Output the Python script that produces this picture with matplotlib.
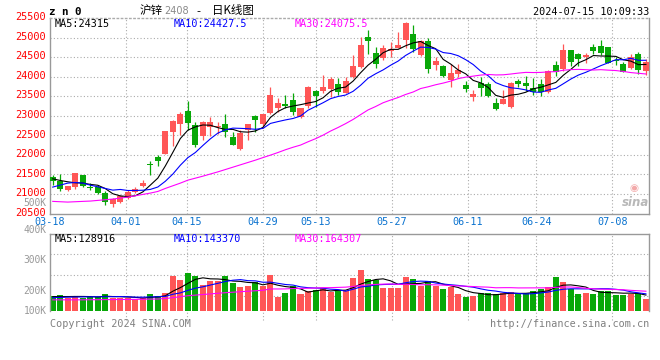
import numpy as np
import pandas as pd
import matplotlib
matplotlib.use("Agg")
import matplotlib.pyplot as plt
from matplotlib.transforms import ScaledTranslation

# daily OHLC of 沪锌2408, 2024-03-18 .. 2024-07-15 (80 sessions)
opens = [21430, 21320, 21090, 21165, 21490, 21190, 21165, 21020, 20740, 20785,
         20895, 21045, 21210, 21765, 21955, 22025, 22595, 22790, 23120, 22765,
         22470, 22700, 22700, 22790, 22465, 22155, 22630, 22995, 22790, 23080,
         23190, 23270, 23400, 22980, 23250, 23630, 23630, 23685, 23810, 23590,
         23980, 24235, 25015, 24610, 24465, 24650, 24745, 24930, 25100, 24550,
         24915, 24295, 24280, 23910, 24065, 23785, 23470, 23850, 23800, 23315,
         23300, 23215, 23895, 23845, 23715, 23810, 23615, 24295, 24185, 24675,
         24590, 24510, 24760, 24790, 24760, 24420, 24320, 24210, 24575, 24150]
highs = [21490, 21505, 21215, 21540, 21495, 21275, 21230, 21080, 20900, 20980,
         21105, 21190, 21360, 21845, 22000, 22620, 22900, 23105, 23375, 22830,
         22855, 22975, 22830, 23045, 22580, 22635, 22790, 23020, 23040, 23740,
         23445, 23530, 23570, 23210, 23765, 23655, 24040, 24000, 23955, 23980,
         24565, 25015, 25185, 24760, 24820, 24890, 25145, 25385, 25330, 24930,
         25000, 24505, 24300, 24335, 24335, 23885, 23655, 23980, 23870, 23445,
         23655, 23870, 23930, 24015, 23955, 23930, 24165, 24405, 24830, 24690,
         24610, 24610, 24830, 24930, 24770, 24490, 24380, 24575, 24635, 24440]
lows = [21235, 21065, 21085, 21130, 21165, 21105, 21000, 20705, 20655, 20765,
        20870, 21020, 21165, 21490, 21725, 22020, 22230, 22510, 22635, 22210,
        22380, 22470, 22525, 22465, 22240, 22125, 22380, 22595, 22680, 23045,
        23105, 23190, 23020, 22935, 23190, 23230, 23570, 23485, 23530, 23575,
        23955, 24210, 24590, 24210, 24420, 24505, 24720, 24720, 24635, 24540,
        24105, 24165, 24000, 23740, 24000, 23615, 23385, 23505, 23490, 23145,
        23295, 23210, 23740, 23640, 23530, 23505, 23570, 24015, 24150, 24270,
        24270, 24355, 24575, 24550, 24340, 24295, 24110, 24185, 24065, 24040]
closes = [21320, 21125, 21210, 21530, 21215, 21140, 21020, 20785, 20870, 20935,
          21055, 21125, 21275, 21740, 21830, 22610, 22865, 23045, 22805, 22255,
          22850, 22830, 22740, 22580, 22255, 22550, 22780, 22890, 23035, 23530,
          23315, 23260, 23105, 23205, 23740, 23505, 23740, 23935, 23600, 23885,
          24270, 24805, 24915, 24335, 24735, 24700, 24800, 25380, 24700, 24915,
          24185, 24395, 24015, 24100, 24165, 23685, 23555, 23700, 23505, 23165,
          23425, 23845, 23810, 23760, 23615, 23615, 24150, 24125, 24675, 24365,
          24440, 24560, 24660, 24615, 24355, 24400, 24125, 24490, 24165, 24380]
volumes = [124000, 132000, 110000, 124000, 110000, 118000, 118000, 140000, 110000, 105000,
           105000, 102000, 110000, 140000, 124000, 151000, 292000, 256000, 316000, 289000,
           215000, 250000, 250000, 289000, 231000, 201000, 206000, 237000, 204000, 297000,
           118000, 151000, 204000, 143000, 162000, 171000, 193000, 157000, 171000, 165000,
           275000, 338000, 264000, 256000, 193000, 193000, 193000, 283000, 264000, 206000,
           248000, 206000, 182000, 195000, 140000, 116000, 124000, 146000, 146000, 140000,
           146000, 154000, 140000, 149000, 168000, 179000, 198000, 281000, 239000, 179000,
           140000, 149000, 140000, 165000, 165000, 132000, 132000, 143000, 151000, 99000]

# moving averages before a full window exists
ma5_head = [21387, 21345, 21311, 21285]
ma10_head = [21175, 21226, 21277, 21294, 21277, 21226, 21183, 21141, 21098]
ma30_head = [20810, 20801, 20792, 20801, 20810, 20818, 20835, 20852, 20869, 20894,
             20920, 20954, 20988, 21022, 21064, 21141, 21209, 21277, 21353, 21404,
             21455, 21510, 21565, 21625, 21685, 21745, 21805, 21865, 21930]
vma5_head = [118000, 119000, 119000, 120000]
vma10_head = [110000, 112000, 114000, 115000, 116000, 117000, 117000, 118000, 118000]
vma30_head = [92000, 92000, 92000, 92000, 92000, 93000, 93000, 94000, 94000, 95000,
              95000, 96000, 97000, 98000, 99000, 103000, 110000, 118000, 126000, 131000,
              136000, 141000, 146000, 151000, 155000, 159000, 163000, 167000, 171000]

tick_labels = ['03-18', '04-01', '04-15', '04-29', '05-13', '05-27', '06-11', '06-24', '07-08']
tick_index = [0, 10, 18, 28, 35, 45, 55, 64, 74]
price_ticks = [20500, 21000, 21500, 22000, 22500, 23000, 23500, 24000, 24500, 25000, 25500]
vol_labels = ['500K', '400K', '300K', '200K', '100K']
price_ma_text = ['MA5:24315', 'MA10:24427.5', 'MA30:24075.5']
vol_ma_text = ['MA5:128916', 'MA10:143370', 'MA30:164307']


def moving(values, n, head):
    s = pd.Series(values, dtype=float).rolling(n).mean().to_numpy()
    s[:n - 1] = head
    return s


RED = '#ff5656'
GREEN = '#08a808'
GRID = '#ababab'
FRAME = '#999999'
MONO = 'DejaVu Sans Mono'
plt.rcParams['font.family'] = [MONO, 'Noto Sans CJK SC']

W, H = 660, 360
fig = plt.figure(figsize=(6.6, 3.6), dpi=100)


def rect(x0, y0, x1, y1):
    return [x0 / W, 1 - y1 / H, (x1 - x0) / W, (y1 - y0) / H]


ax = fig.add_axes(rect(50, 18, 649.3, 213.5))
axv = fig.add_axes(rect(50, 234, 649.3, 311))

x = np.arange(len(closes))
o = np.array(opens, float)
c = np.array(closes, float)
up = c >= o
colors = np.where(up, RED, GREEN)

# grid is drawn a little wider than the candle spacing on the original
tick_pos = [i * 1.012 - 0.35 for i in tick_index]
xlim = (-0.36, 79.45)

# ---- price panel
for p in price_ticks[1:-1]:
    ax.axhline(p, color=GRID, lw=0.8, ls=(0, (1, 2)), zorder=0)
for t in tick_pos[1:]:
    ax.axvline(t, color=GRID, lw=0.8, ls=(0, (1, 2)), zorder=0)

ax.vlines(x, lows, highs, colors=colors, lw=0.9, zorder=2)
body = np.maximum(np.abs(c - o), 30)
ax.bar(x, body, bottom=np.minimum(o, c), width=0.8, color=colors, lw=0, zorder=3)

ax.plot(x, moving(closes, 5, ma5_head), color='black', lw=0.8, zorder=4)
ax.plot(x, moving(closes, 10, ma10_head), color='#0000ff', lw=0.8, zorder=4)
ax.plot(x, moving(closes, 30, ma30_head), color='#ff00ff', lw=0.8, zorder=4)

ax.set_xlim(*xlim)
ax.set_ylim(20500, 25500)
ax.set_yticks(price_ticks)
ax.set_yticklabels([str(p) for p in price_ticks], color='#ff0000', fontsize=7.4, family=MONO)
ax.set_xticks(tick_pos)
ax.set_xticklabels(tick_labels, color='#0a72cf', fontsize=7.3, family=MONO)
ax.tick_params(length=0, pad=2.5)
ax.tick_params(axis='y', pad=3)
lift = ScaledTranslation(0, 1.8 / 100, fig.dpi_scale_trans)
for lab in ax.get_yticklabels():
    lab.set_transform(lab.get_transform() + lift)
for s in ax.spines.values():
    s.set_color(FRAME)
    s.set_linewidth(1)
ax.spines['top'].set_linestyle((0, (1, 2)))
ax.spines['top'].set_color(GRID)

# ---- volume panel
vol_top = 635000
for f in (0.201, 0.4675, 0.734):
    axv.axhline(f * vol_top, color=GRID, lw=0.8, ls=(0, (1, 2)), zorder=0)
for t in tick_pos[1:]:
    axv.axvline(t, ymin=-0.12, ymax=1, color=GRID, lw=0.8, ls=(0, (1, 2)),
                zorder=0, clip_on=False)
axv.bar(x, volumes, width=0.8, color=colors, lw=0, zorder=2)
axv.plot(x, moving(volumes, 5, vma5_head), color='black', lw=0.8, zorder=4)
axv.plot(x, moving(volumes, 10, vma10_head), color='#0000ff', lw=0.8, zorder=4)
axv.plot(x, moving(volumes, 30, vma30_head), color='#ff00ff', lw=0.8, zorder=4)
axv.set_xlim(*xlim)
axv.set_ylim(0, vol_top)
axv.set_xticks([])
axv.set_yticks([])
for s in axv.spines.values():
    s.set_color(FRAME)
    s.set_linewidth(1)
axv.spines['bottom'].set_visible(False)

for lab, yy in zip(vol_labels, [202.5, 230.5, 260, 291, 311]):
    fig.text(46.5 / W, 1 - yy / H, lab, ha='right', va='center', color='#999999',
             fontsize=6.9, family=MONO)


# ---- texts
def ftext(px, py, s, **kw):
    kw.setdefault('va', 'center')
    kw.setdefault('family', MONO)
    kw.setdefault('fontsize', 7.3)
    fig.text(px / W, 1 - py / H, s, **kw)


ftext(49, 12, 'z n 0', fontsize=7.8, weight='bold')
ftext(140, 10.5, '沪锌', family='Noto Sans CJK SC', fontsize=8.3)
ftext(164.5, 11, '2408', family='DejaVu Sans', fontsize=7, color='#8a8a8a')
ftext(196, 11, '-', family='DejaVu Sans', fontsize=8)
ftext(212, 10.5, '日K线图', family='Noto Sans CJK SC', fontsize=8.3)
ftext(649, 12, '2024-07-15 10:09:33', ha='right')

for s, px, col in zip(price_ma_text, [55, 174, 295], ['black', '#0000ff', '#ff00ff']):
    ftext(px, 24, s, color=col)
for s, px, col in zip(vol_ma_text, [55, 174, 295], ['black', '#0000ff', '#ff00ff']):
    ftext(px, 239, s, color=col)

ftext(50, 324, 'Copyright 2024 SINA.COM', color='#808080')
ftext(649, 324, 'http://finance.sina.com.cn', ha='right', color='#808080')

# faded sina watermark
ftext(634, 187.5, '◉', family='DejaVu Sans', fontsize=7.5, color='#f3a9a9', ha='center')
ftext(636, 202.5, 'sina', family='DejaVu Sans', fontsize=8.5, color='#b8b8b8',
      style='italic', weight='bold', ha='center')

fig.savefig('out.png', dpi=100, facecolor='white')
